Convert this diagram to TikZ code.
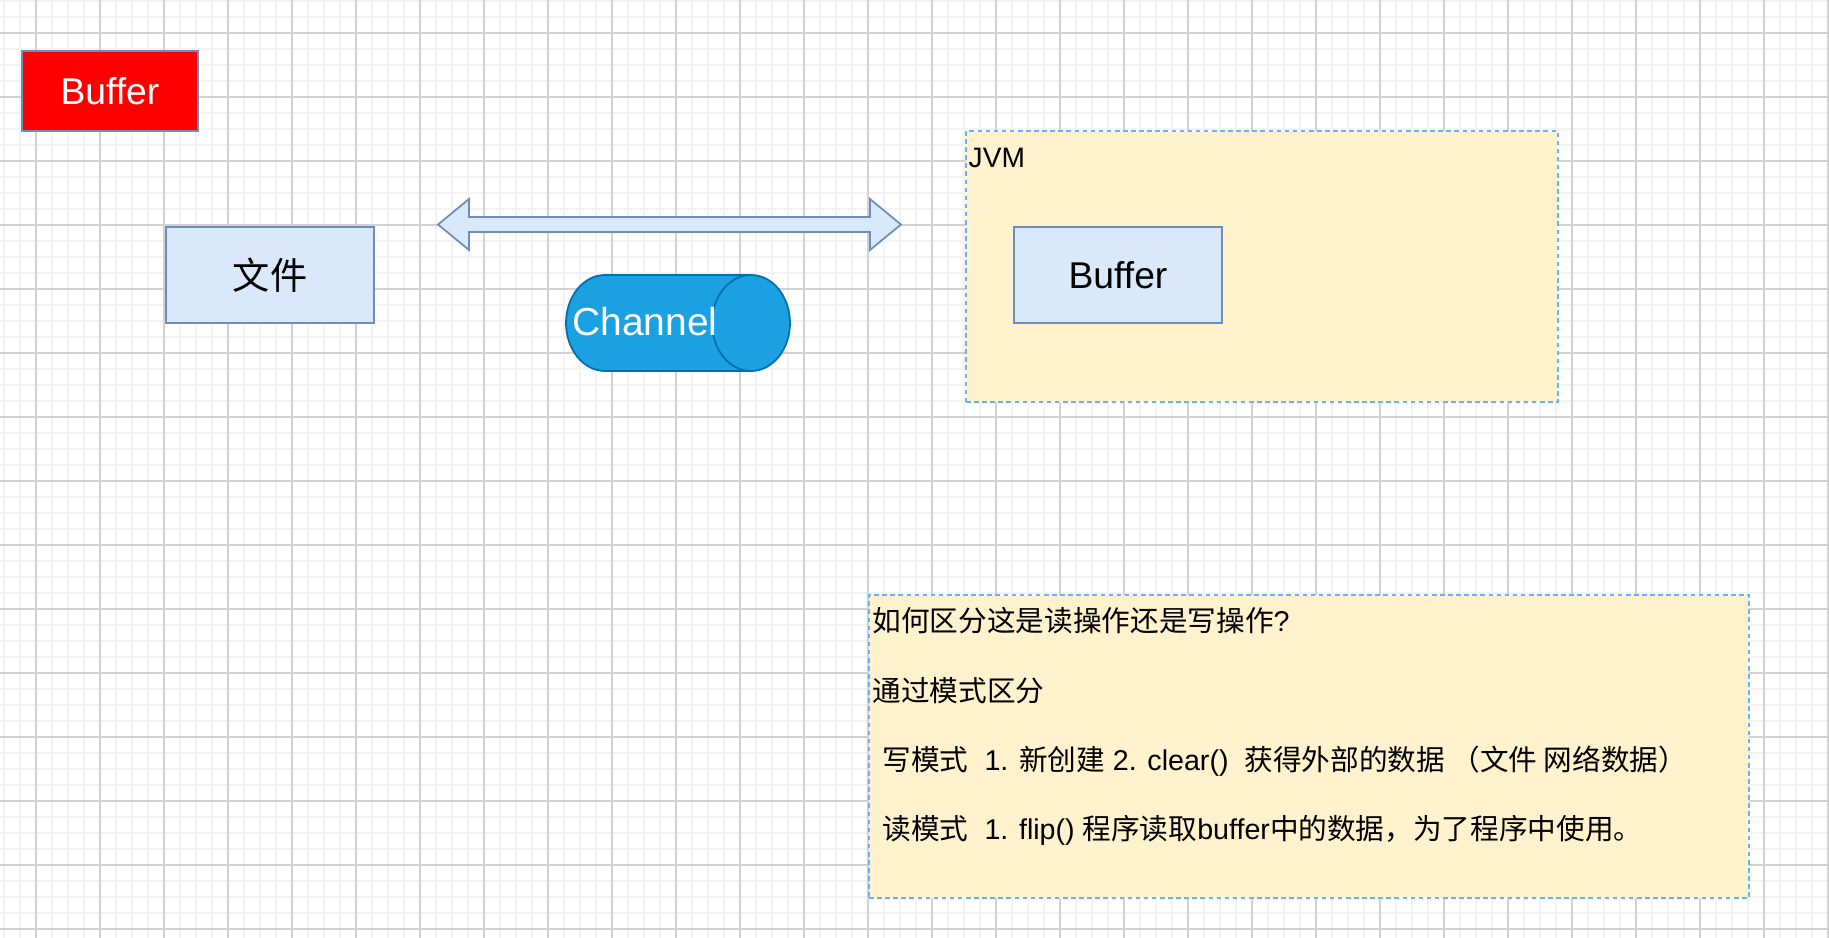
\documentclass[tikz,border=0pt]{standalone}
\usepackage{fontspec}
\setmainfont{Liberation Sans}
\newfontfamily\cjk{Noto Sans CJK SC}
\definecolor{majorgrid}{RGB}{210,210,210}
\definecolor{minorgrid}{RGB}{243,243,243}
\definecolor{boxfill}{HTML}{DAE8FC}
\definecolor{boxline}{HTML}{6C8EBF}
\definecolor{zonefill}{HTML}{FFF2CC}
\definecolor{zoneline}{HTML}{66B2FF}
\definecolor{chanfill}{HTML}{1BA1E2}
\definecolor{chanline}{HTML}{006EAF}

\begin{document}
\begin{tikzpicture}[
  box/.style={draw=boxline,fill=boxfill,line width=0.5pt,inner sep=0pt,
    minimum width=2.08cm,minimum height=0.96cm,font=\fontsize{10.6}{12}\selectfont},
  zone/.style={draw=zoneline,fill=zonefill,line width=0.5pt,
    dash pattern=on 1.3pt off 1pt,inner sep=0pt},
  notetext/.style={anchor=base west,inner sep=0pt,font=\fontsize{8.15}{9.8}\selectfont}]
  % background grid
  \fill[white] (0,0) rectangle (18.29,-9.38);
  \useasboundingbox (0,0) rectangle (18.29,-9.38);
  \begin{scope}[shift={(0.36,-0.33)}]
    \draw[minorgrid,line width=0.55pt,step=0.16] (-0.36,0.33) grid (17.93,-9.05);
    \draw[majorgrid,line width=0.3pt,step=0.64] (-0.36,0.33) grid (17.93,-9.05);
  \end{scope}
  \node[box,fill=red,minimum width=1.76cm,minimum height=0.8cm,text=white] (flag) at (1.10,-0.91) {Buffer};
  \node[box] (file) at (2.70,-2.75) {\cjk 文件};
  % double arrow
  \draw[draw=boxline,fill=boxfill,line width=0.5pt] (4.38,-2.245) -- (4.69,-1.99) -- (4.69,-2.17)
    -- (8.70,-2.17) -- (8.70,-1.99) -- (9.01,-2.245) -- (8.70,-2.50) -- (8.70,-2.32)
    -- (4.69,-2.32) -- (4.69,-2.50) -- cycle;
  % channel cylinder
  \draw[draw=chanline,fill=chanfill,line width=0.5pt] (6.05,-2.75) -- (7.51,-2.75)
    arc[start angle=90,end angle=-90,x radius=0.39,y radius=0.48] -- (6.05,-3.71)
    arc[start angle=270,end angle=90,x radius=0.39,y radius=0.48] -- cycle;
  \draw[draw=chanline,line width=0.5pt] (7.51,-2.75)
    arc[start angle=90,end angle=270,x radius=0.39,y radius=0.48];
  \node[text=white,inner sep=0pt,font=\fontsize{11.1}{13}\selectfont] (channel) at (6.45,-3.22) {Channel};
  % JVM
  \node[zone,minimum width=5.92cm,minimum height=2.71cm] (jvm) at (12.62,-2.665) {};
  \node[notetext,font=\fontsize{8}{9.6}\selectfont] (jvmlabel) at (9.68,-1.68) {JVM};
  \node[box] (buffer) at (11.18,-2.75) {Buffer};
  % note
  \node[zone,minimum width=8.80cm,minimum height=3.03cm] (note) at (13.09,-7.465) {};
  \node[notetext] (question) at (8.72,-6.31) {{\cjk 如何区分这是读操作还是写操作}?};
  \node[notetext] (answer) at (8.72,-7.01) {\cjk 通过模式区分};
  \node[notetext] (writemode) at (8.82,-7.70) {{\cjk 写模式}\ \ 1. {\cjk 新创建} 2. clear()\ \ {\cjk 获得外部的数据 （文件 网络数据）}};
  \node[notetext] (readmode) at (8.82,-8.39) {{\cjk 读模式}\ \ 1. flip() {\cjk 程序读取}buffer{\cjk 中的数据，为了程序中使用。}};
\end{tikzpicture}
\end{document}
